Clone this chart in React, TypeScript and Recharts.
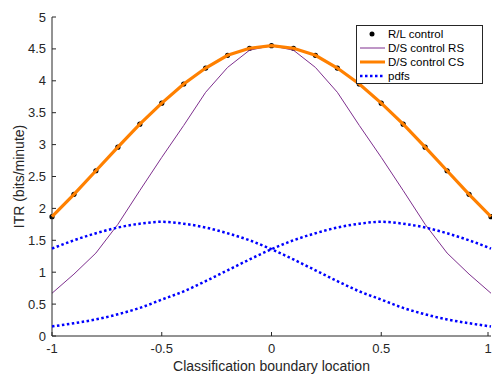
import { ComposedChart, Line, Scatter, XAxis, YAxis, Legend } from 'recharts';

// classification boundary positions
const boundary = [-1, -0.9, -0.8, -0.7, -0.6, -0.5, -0.4, -0.3, -0.2, -0.1, 0, 0.1, 0.2, 0.3, 0.4, 0.5, 0.6, 0.7, 0.8, 0.9, 1];

const rlControl = [1.87, 2.22, 2.59, 2.96, 3.32, 3.65, 3.95, 4.2, 4.4, 4.51, 4.55, 4.51, 4.4, 4.2, 3.95, 3.65, 3.32, 2.96, 2.59, 2.22, 1.87];
const dsControlRS = [0.67, 0.97, 1.3, 1.75, 2.28, 2.8, 3.3, 3.82, 4.21, 4.48, 4.55, 4.48, 4.21, 3.82, 3.3, 2.8, 2.28, 1.75, 1.3, 0.97, 0.67];
const dsControlCS = [1.87, 2.22, 2.59, 2.96, 3.32, 3.65, 3.95, 4.2, 4.4, 4.51, 4.55, 4.51, 4.4, 4.2, 3.95, 3.65, 3.32, 2.96, 2.59, 2.22, 1.87];
const pdfLeft = [1.37, 1.5, 1.61, 1.7, 1.76, 1.79, 1.76, 1.7, 1.61, 1.5, 1.36, 1.2, 1.03, 0.86, 0.7, 0.57, 0.44, 0.34, 0.26, 0.2, 0.15];
const pdfRight = [0.15, 0.2, 0.26, 0.34, 0.44, 0.57, 0.7, 0.86, 1.03, 1.2, 1.36, 1.5, 1.61, 1.7, 1.76, 1.79, 1.76, 1.7, 1.61, 1.5, 1.37];

const xTicks = [-1, -0.5, 0, 0.5, 1];
const yTicks = [0, 0.5, 1, 1.5, 2, 2.5, 3, 3.5, 4, 4.5, 5];

const data = boundary.map((x, i) => ({
  x,
  rl: rlControl[i],
  rs: dsControlRS[i],
  cs: dsControlCS[i],
  pdfL: pdfLeft[i],
  pdfR: pdfRight[i],
}));

const AXIS = '#262626';
const FONT = '"Liberation Sans", Arial, Helvetica, sans-serif';
const ORANGE = '#FF8000';
const PURPLE = '#7E2F8E';
const BLUE = '#0000FF';

const YTick = (props: any) => {
  const { x, y, payload } = props;
  return (
    <g>
      <line x1={x + 6} x2={x + 10} y1={y} y2={y} stroke={AXIS} />
      <text x={x} y={y} dy="0.35em" textAnchor="end" fontSize={13} fill={AXIS} fontFamily={FONT}>
        {payload.value}
      </text>
    </g>
  );
};

const XTick = (props: any) => {
  const { x, y, payload } = props;
  return (
    <g>
      <line x1={x} x2={x} y1={y - 8} y2={y - 12} stroke={AXIS} />
      <text x={x} y={y} dy="0.71em" textAnchor="middle" fontSize={13} fill={AXIS} fontFamily={FONT}>
        {payload.value}
      </text>
    </g>
  );
};

const RLDot = (props: any) => {
  const { cx, cy } = props;
  return <circle cx={cx} cy={cy} r={2.6} fill="#000" />;
};

const legendItems = [
  { name: 'R/L control', kind: 'dot', color: '#000' },
  { name: 'D/S control RS', kind: 'line', color: PURPLE, width: 1 },
  { name: 'D/S control CS', kind: 'line', color: ORANGE, width: 3 },
  { name: 'pdfs', kind: 'dots', color: BLUE, width: 2.5 },
];

const renderLegend = () => (
  <div
    style={{
      boxSizing: 'border-box',
      width: 127,
      height: 59,
      border: `1px solid ${AXIS}`,
      background: '#fff',
      paddingTop: 1,
      fontFamily: FONT,
      fontSize: 11.5,
      color: '#000',
    }}
  >
    {legendItems.map((item) => (
      <div key={item.name} style={{ display: 'flex', alignItems: 'center', height: 14 }}>
        <svg width={30} height={14} style={{ flex: 'none' }}>
          {item.kind === 'dot' && <circle cx={15} cy={7} r={2.5} fill={item.color} />}
          {item.kind === 'line' && (
            <line x1={3} x2={28} y1={7} y2={7} stroke={item.color} strokeWidth={item.width} />
          )}
          {item.kind === 'dots' && (
            <line x1={3} x2={28} y1={7} y2={7} stroke={item.color} strokeWidth={item.width} strokeDasharray="2.5 2.5" />
          )}
        </svg>
        <span style={{ marginLeft: 1, lineHeight: '14px' }}>{item.name}</span>
      </div>
    ))}
  </div>
);

export default function App() {
  return (
    <div style={{ width: 492, height: 374, background: '#fff' }}>
      <style>{'body{margin:0;}'}</style>
      <ComposedChart width={492} height={374} data={data} margin={{ top: 17, right: 1, left: 0, bottom: 0 }}>
        <XAxis
          dataKey="x"
          type="number"
          domain={[-1, 1]}
          ticks={xTicks}
          height={38}
          stroke={AXIS}
          tickSize={0}
          tickMargin={8}
          tickLine={false}
          tick={<XTick />}
          label={{
            position: 'insideBottom',
            content: (p: any) => {
              const vb = p.viewBox;
              return (
                <text x={vb.x + vb.width / 2} y={vb.y + vb.height - 3} textAnchor="middle" fontSize={14} fill={AXIS} fontFamily={FONT}>
                  Classification boundary location
                </text>
              );
            },
          }}
        />
        <YAxis
          type="number"
          domain={[0, 5]}
          ticks={yTicks}
          width={52}
          stroke={AXIS}
          tickSize={0}
          tickMargin={6}
          tickLine={false}
          tick={<YTick />}
          label={{
            position: 'insideLeft',
            content: (p: any) => {
              const vb = p.viewBox;
              const cx = vb.x + 19;
              const cy = vb.y + vb.height / 2;
              return (
                <text x={cx} y={cy} transform={`rotate(-90 ${cx} ${cy})`} textAnchor="middle" dy="0.35em" fontSize={14} fill={AXIS} fontFamily={FONT}>
                  ITR (bits/minute)
                </text>
              );
            },
          }}
        />
        <Legend
          layout="horizontal"
          verticalAlign="middle"
          align="center"
          content={renderLegend}
          wrapperStyle={{ left: 356, top: 25, width: 127, height: 59 }}
        />
        <Scatter dataKey="rl" name="R/L control" fill="#000" shape={<RLDot />} isAnimationActive={false} zIndex={300} />
        <Line dataKey="rs" name="D/S control RS" type="linear" stroke={PURPLE} strokeWidth={1} dot={false} activeDot={false} isAnimationActive={false} zIndex={400} />
        <Line dataKey="cs" name="D/S control CS" type="linear" stroke={ORANGE} strokeWidth={3.2} dot={false} activeDot={false} isAnimationActive={false} zIndex={700} />
        <Line dataKey="pdfL" name="pdfs" type="monotone" stroke={BLUE} strokeWidth={2.5} strokeDasharray="2.5 2.5" dot={false} activeDot={false} isAnimationActive={false} zIndex={800} />
        <Line dataKey="pdfR" name="pdfs " type="monotone" stroke={BLUE} strokeWidth={2.5} strokeDasharray="2.5 2.5" dot={false} activeDot={false} isAnimationActive={false} legendType="none" zIndex={800} />
      </ComposedChart>
    </div>
  );
}
